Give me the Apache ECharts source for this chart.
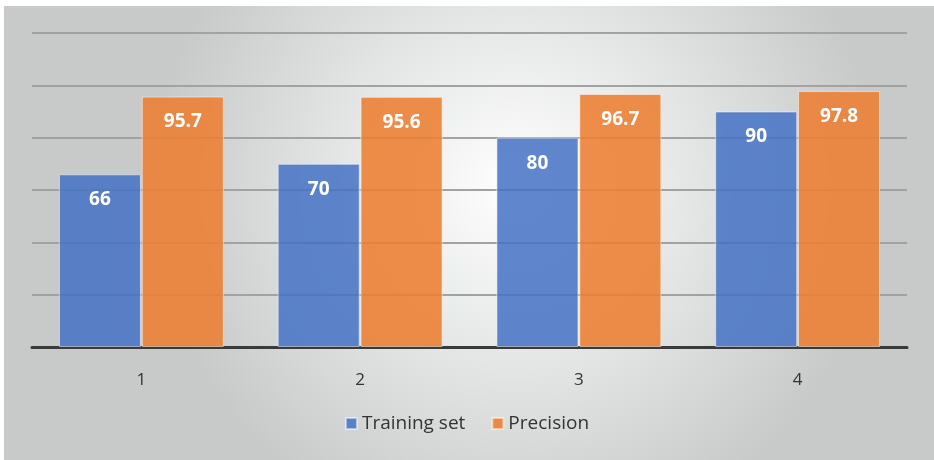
<!DOCTYPE html>
<html>
<head>
<meta charset="utf-8">
<script src="https://cdn.jsdelivr.net/npm/echarts@6/dist/echarts.min.js"></script>
<style>
  html, body { margin: 0; padding: 0; background: #fff; }
</style>
</head>
<body>
<div id="myEchart" style="width: 934px;height:460px"></div>
<script>
// data
const categories = ['1', '2', '3', '4'];
const trainingSet = [66, 70, 80, 90];
const precision = [95.7, 95.6, 96.7, 97.8];

const labelStyle = {
    show: true,
    position: 'insideTop',
    distance: 16,
    color: '#fff',
    fontSize: 19,
    fontWeight: 'bold',
    fontFamily: 'Open Sans'
};

const option = {
    animation: false,
    graphic: [{
        type: 'rect',
        z: -10,
        silent: true,
        shape: { x: 4, y: 6, width: 930, height: 454 },
        style: {
            fill: {
                type: 'radial', x: 0.55, y: 0.4, r: 0.8,
                colorStops: [
                    { offset: 0, color: '#ffffff' },
                    { offset: 1, color: '#c8caca' }
                ]
            }
        }
    }],
    grid: { left: 32, right: 27, top: 33, bottom: 113 },
    xAxis: {
        type: 'category',
        data: categories,
        axisTick: { show: false },
        axisLine: { lineStyle: { color: '#3a3a3a', width: 3 } },
        axisLabel: { color: '#333', fontSize: 17, fontFamily: 'Open Sans', margin: 25 }
    },
    yAxis: {
        type: 'value',
        min: 0,
        max: 120,
        interval: 20,
        axisLabel: { show: false },
        splitLine: { lineStyle: { color: '#a2a2a2', width: 2 } }
    },
    legend: {
        bottom: 22,
        left: 'center',
        itemWidth: 11,
        itemHeight: 11,
        itemGap: 26,
        icon: 'rect',
        textStyle: { color: '#333', fontSize: 19, fontFamily: 'Open Sans' }
    },
    series: [
        {
            name: 'Training set',
            type: 'bar',
            data: trainingSet,
            barWidth: '37.5%',
            barGap: '1%',
            itemStyle: { color: 'rgba(68,114,196,0.85)', borderColor: 'rgba(255,255,255,0.5)', borderWidth: 1 },
            label: labelStyle
        },
        {
            name: 'Precision',
            type: 'bar',
            data: precision,
            barWidth: '37.5%',
            itemStyle: { color: 'rgba(237,125,49,0.88)', borderColor: 'rgba(255,255,255,0.5)', borderWidth: 1 },
            label: labelStyle
        }
    ]
};

const myChart = echarts.init(document.getElementById('myEchart'));
myChart.setOption(option);
</script>
</body>
</html>
